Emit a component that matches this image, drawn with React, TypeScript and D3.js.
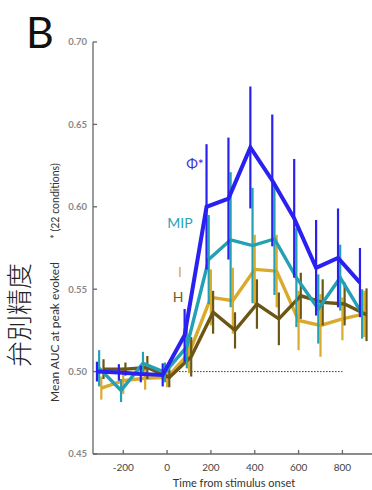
import * as d3 from 'd3';

// time bins (ms); each series is drawn with a small horizontal offset
const times = [-300, -200, -100, 0, 100, 200, 300, 400, 500, 600, 700, 800, 900];

const phiMean = [0.5, 0.4995, 0.4985, 0.498, 0.522, 0.6, 0.605, 0.636, 0.616, 0.593, 0.563, 0.569, 0.554];
const phiErr = [0.006, 0.005, 0.005, 0.007, 0.016, 0.038, 0.037, 0.037, 0.04, 0.036, 0.029, 0.03, 0.021];
const mipMean = [0.502, 0.4885, 0.505, 0.4995, 0.515, 0.568, 0.58, 0.5765, 0.5805, 0.557, 0.538, 0.557, 0.535];
const mipErr = [0.011, 0.007, 0.007, 0.006, 0.013, 0.027, 0.041, 0.035, 0.034, 0.03, 0.021, 0.02, 0.015];
const iMean = [0.49, 0.4945, 0.496, 0.4965, 0.511, 0.545, 0.543, 0.562, 0.561, 0.531, 0.528, 0.532, 0.535];
const iErr = [0.007, 0.008, 0.007, 0.006, 0.012, 0.017, 0.02, 0.021, 0.022, 0.018, 0.019, 0.013, 0.014];
const hMean = [0.5015, 0.5015, 0.5025, 0.4965, 0.509, 0.536, 0.525, 0.541, 0.532, 0.546, 0.542, 0.541, 0.5345];
const hErr = [0.006, 0.004, 0.007, 0.006, 0.012, 0.013, 0.011, 0.015, 0.016, 0.014, 0.014, 0.013, 0.016];

const yTicks = [0.45, 0.5, 0.55, 0.6, 0.65, 0.7];
const xTicks = [-200, 0, 200, 400, 600, 800];

const W = 372;
const H = 490;
const FONT = 'Lato, "Open Sans", sans-serif';

const x = d3.scaleLinear().domain([-338, 935]).range([93, 372]);
const y = d3.scaleLinear().domain([0.45, 0.7]).range([454, 42]);

type Series = { name: string; mean: number[]; err: number[]; color: string; width: number; shift: number };

// draw order: back to front
const series: Series[] = [
  { name: 'I', mean: iMean, err: iErr, color: '#d9aa2b', width: 3.4, shift: 0 },
  { name: 'H', mean: hMean, err: hErr, color: '#6b5616', width: 3.4, shift: 10 },
  { name: 'MIP', mean: mipMean, err: mipErr, color: '#24a0b4', width: 3.4, shift: -10 },
  { name: 'Φ*', mean: phiMean, err: phiErr, color: '#2a20f0', width: 4, shift: -20 },
];

export default function App() {
  const line = d3.line<[number, number]>().x((d) => x(d[0])).y((d) => y(d[1]));
  const axisColor = '#666';

  return (
    <svg width={W} height={H} style={{ position: 'absolute', left: 0, top: 0, background: '#fff' }}>
      {/* panel letter */}
      <text x={26} y={48} fontFamily={FONT} fontSize={43} fill="#111">B</text>

      {/* Japanese axis title */}
      <text
        transform={`translate(29,${315}) rotate(-90)`}
        textAnchor="middle"
        fontFamily='"Noto Sans CJK JP", sans-serif'
        fontWeight={300}
        fontSize={26}
        fill="#222"
      >
        弁別精度
      </text>

      {/* y label */}
      <text transform={`translate(59,332) rotate(-90)`} textAnchor="middle" fontFamily={FONT} fontSize={12} fill="#333">
        Mean AUC at peak evoked
      </text>
      <text transform={`translate(59,201) rotate(-90)`} textAnchor="middle" fontFamily={FONT} fontSize={10.5} fill="#333">
        * (22 conditions)
      </text>

      {/* axes */}
      <line x1={x.range()[0]} x2={x.range()[0]} y1={y(0.7)} y2={y(0.45)} stroke={axisColor} strokeWidth={1.3} />
      <line x1={x.range()[0]} x2={x.range()[1]} y1={y(0.45)} y2={y(0.45)} stroke={axisColor} strokeWidth={1.3} />
      {yTicks.map((t) => (
        <g key={t}>
          <line x1={x.range()[0]} x2={x.range()[0] + 4} y1={y(t)} y2={y(t)} stroke={axisColor} strokeWidth={1.3} />
          <text x={87} y={y(t)} dy="0.35em" textAnchor="end" fontFamily={FONT} fontWeight={700} fontSize={9.5} fill="#888">
            {t.toFixed(2)}
          </text>
        </g>
      ))}
      {xTicks.map((t) => (
        <g key={t}>
          <line x1={x(t)} x2={x(t)} y1={y(0.45)} y2={y(0.45) - 4} stroke={axisColor} strokeWidth={1.3} />
          <text x={x(t)} y={471} textAnchor="middle" fontFamily={FONT} fontSize={10} fill="#444">
            {t}
          </text>
        </g>
      ))}
      <text x={234} y={487} textAnchor="middle" fontFamily={FONT} fontSize={11} fill="#333">
        Time from stimulus onset
      </text>

      {/* chance level */}
      <line x1={x(0)} x2={x(800)} y1={y(0.5)} y2={y(0.5)} stroke="#333" strokeWidth={1} strokeDasharray="1.5,1.5" />

      {/* series: error bars + mean lines */}
      {series.map((s) => {
        const pts = times.map((t, i) => [t + s.shift, s.mean[i]] as [number, number]);
        return (
          <g key={s.name}>
            {pts.map((p, i) => (
              <line
                key={i}
                x1={x(p[0])}
                x2={x(p[0])}
                y1={y(p[1] - s.err[i])}
                y2={y(p[1] + s.err[i])}
                stroke={s.color}
                strokeWidth={2.2}
              />
            ))}
            <path d={line(pts) ?? ''} fill="none" stroke={s.color} strokeWidth={s.width} strokeLinejoin="miter" />
          </g>
        );
      })}

      {/* series labels */}
      <text x={195} y={169} textAnchor="middle" fontFamily={FONT} fontSize={14} fill="#3a32d8">Φ*</text>
      <text x={180} y={228} textAnchor="middle" fontFamily={FONT} fontSize={14} fill="#2aa3b8">MIP</text>
      <text x={180} y={277} textAnchor="middle" fontFamily={FONT} fontSize={14} fill="#d9aa2b">I</text>
      <text x={178} y={302} textAnchor="middle" fontFamily={FONT} fontSize={14} fill="#6e5b2a">H</text>
    </svg>
  );
}
